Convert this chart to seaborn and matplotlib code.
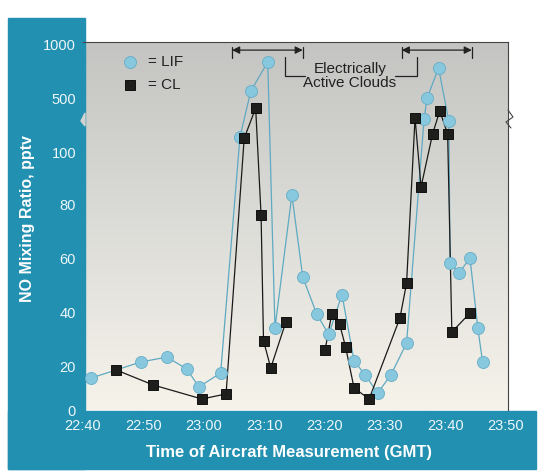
import numpy as np
import pandas as pd
import matplotlib.pyplot as plt
from matplotlib.patches import Rectangle, Polygon
from matplotlib.lines import Line2D
from matplotlib.colors import LinearSegmentedColormap
import seaborn as sns

sns.set_theme(style="white")
plt.rcParams['font.family'] = ['Liberation Sans', 'DejaVu Sans']

# time = minutes after 22:40 GMT, NO in pptv
lif_time = [1.3, 9.6, 13.9, 17.2, 19.2, 22.8, 26.0, 27.8, 30.6, 31.8, 34.6, 36.4,
            38.7, 40.7, 42.9, 44.9, 46.7, 48.8, 51.0, 53.6, 56.5, 57.0, 58.9,
            60.6, 60.8, 62.3, 64.1, 65.4, 66.2]
lif_no = [14.5, 21.5, 23.3, 18.6, 10.5, 16.8, 105.5, 565, 833, 34.1, 83.8, 53.1,
          39.3, 31.7, 46.5, 21.9, 16.1, 7.7, 15.9, 28.5, 306, 500, 778,
          282, 58.5, 54.6, 60.2, 34.1, 21.3]

cl_time = [5.5, 11.6, 19.7, 23.7, 26.7, 28.6, 29.5, 29.9, 31.1, 33.6,
           40.1, 41.2, 42.5, 43.5, 44.9, 47.4, 52.5, 53.6, 55.0, 56.0,
           57.9, 59.1, 60.4, 61.1, 64.1]
cl_no = [18.2, 11.4, 5.0, 7.3, 105, 407, 76.1, 29.4, 19.1, 36.3,
         25.9, 39.3, 35.6, 27.0, 10.0, 5.0, 37.8, 50.8, 315, 86.8,
         106.6, 380, 106.6, 32.6, 39.6]
cl_segment = [0] * 10 + [1] * 15

x_ticks = [0, 10, 20, 30, 40, 50, 60, 70]
x_labels = ['22:40', '22:50', '23:00', '23:10', '23:20', '23:30', '23:40', '23:50']
y_ticks = [0, 20, 40, 60, 80, 100, 500, 1000]

clouds = [(24.7, 36.4), (52.8, 64.4)]

# broken y axis: value -> height (break between ~111 and ~278)
axis_vals = [0, 20, 40, 60, 80, 100, 111, 278, 500, 1000, 1019]
axis_h = [0, 44, 98, 151.5, 205, 258, 288, 288.1, 312, 366, 368]


def fwd(v):
    return np.interp(v, axis_vals, axis_h)


def inv(h):
    return np.interp(h, axis_h, axis_vals)


lif = pd.DataFrame({'time': lif_time, 'no': lif_no})
cl = pd.DataFrame({'time': cl_time, 'no': cl_no, 'segment': cl_segment})

W, H = 548, 476
fig = plt.figure(figsize=(W / 100, H / 100), dpi=100, facecolor='white')

teal = '#2290b0'
fig.patches.append(Rectangle((8 / W, 1 - 469 / H), (85 - 8) / W, (469 - 18) / H,
                             transform=fig.transFigure, color=teal, zorder=0))
fig.patches.append(Rectangle((8 / W, 1 - 469 / H), (536 - 8) / W, (469 - 411) / H,
                             transform=fig.transFigure, color=teal, zorder=0))

pos = [83 / W, 1 - 410 / H, 425 / W, 368 / H]
bg = fig.add_axes(pos, zorder=0)
grad = LinearSegmentedColormap.from_list('bg', ['#c4c4c2', '#dcdcd8', '#f6f3ea'])
bg.imshow(np.linspace(0, 1, 256).reshape(-1, 1), cmap=grad, aspect='auto',
          extent=[0, 1, 0, 1])
bg.axis('off')

ax = fig.add_axes(pos, zorder=1)
ax.set_facecolor('none')
ax.set_yscale('function', functions=(fwd, inv))

lif_col = '#5eaac2'
sns.lineplot(data=lif, x='time', y='no', sort=False, estimator=None,
             color=lif_col, lw=0.9, ax=ax, zorder=2)
sns.lineplot(data=cl, x='time', y='no', units='segment', sort=False, estimator=None,
             color='#1a1a1a', lw=0.9, ax=ax, zorder=2)
sns.scatterplot(data=lif, x='time', y='no', marker='o', s=75, color='#88c8de',
                edgecolor='#66adc6', linewidth=0.6, label='= LIF', ax=ax, zorder=3)
sns.scatterplot(data=cl, x='time', y='no', marker='s', s=62, color='#1e1e1c',
                edgecolor='black', linewidth=0.6, label='= CL', ax=ax, zorder=4)

ax.set_xlim(0, 70.4)
ax.set_ylim(0, 1019)
ax.set_xticks(x_ticks)
ax.set_xticklabels(x_labels)
ax.set_yticks(y_ticks)
ax.set_yticklabels([str(t) for t in y_ticks])
ax.tick_params(length=0, labelcolor='#eef7fa', labelsize=10.5, pad=5)
ax.tick_params(axis='x', pad=6.5)

for s in ['left', 'bottom']:
    ax.spines[s].set_visible(False)
for s in ['top', 'right']:
    ax.spines[s].set_color('#444444')
    ax.spines[s].set_linewidth(0.8)

ax.set_xlabel('Time of Aircraft Measurement (GMT)', fontsize=12,
              fontweight='bold', color='white')
ax.xaxis.set_label_coords(0.485, -0.095)
ax.set_ylabel('NO Mixing Ratio, pptv', fontsize=11.5, fontweight='bold', color='white')
ax.yaxis.set_label_coords(-0.112, 0.52)

leg = ax.legend(loc='upper left', bbox_to_anchor=(0.06, 0.98), frameon=False,
                fontsize=11, handletextpad=0.2, labelspacing=0.55, borderaxespad=0)
for t in leg.get_texts():
    t.set_color('#222222')

# electrically active cloud intervals
tr = ax.get_xaxis_transform()
for a, b in clouds:
    ax.annotate('', xy=(b, 0.978), xytext=(a, 0.978), xycoords=tr, textcoords=tr,
                arrowprops=dict(arrowstyle='<|-|>', color='#222222', lw=0.9,
                                shrinkA=0, shrinkB=0, mutation_scale=11))
    for x in (a, b):
        ax.plot([x, x], [0.957, 0.986], transform=tr, color='#222222', lw=0.9,
                clip_on=False)
ax.plot([33.4, 33.4, 36.8], [0.959, 0.9076, 0.9076], transform=tr, color='#222222', lw=0.9)
ax.plot([51.7, 55.3, 55.3], [0.9076, 0.9076, 0.959], transform=tr, color='#222222', lw=0.9)
ax.text(44.2, 0.927, 'Electrically', transform=tr, ha='center', va='center',
        fontsize=11, color='#222222')
ax.text(44.2, 0.889, 'Active Clouds', transform=tr, ha='center', va='center',
        fontsize=11, color='#222222')

# break marks on the axis edges
fig.patches.append(Polygon([(85 / W, 1 - 113 / H), (81 / W, 1 - 121 / H), (85 / W, 1 - 126 / H)],
                           closed=True, transform=fig.transFigure, color='#d2d2d0', zorder=2))
fig.lines.append(Line2D([508 / W, 513 / W, 506 / W, 511 / W],
                        [1 - 110 / H, 1 - 117 / H, 1 - 122 / H, 1 - 128 / H],
                        transform=fig.transFigure, color='#444444', lw=0.8, zorder=3))

fig.savefig('out.png', dpi=100, facecolor='white')
